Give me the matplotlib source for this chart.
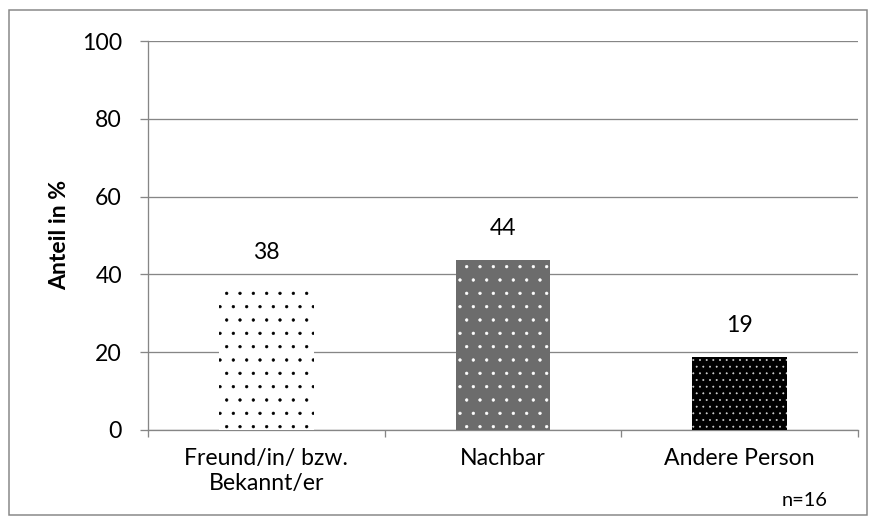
import matplotlib.pyplot as plt
from matplotlib.patches import Rectangle

# Anteil der Helfer nach Personengruppe (n=16)
categories = ['Freund/in/ bzw.\nBekannt/er', 'Nachbar', 'Andere Person']
shares = [37.5, 43.75, 18.75]
y_ticks = [0, 20, 40, 60, 80, 100]
sample_note = 'n=16'

DPI = 80
W, H = 877, 523


def px(v):
    # pixel size -> points at this dpi
    return v * 72 / DPI


plt.rcParams['font.family'] = ['Lato', 'DejaVu Sans']
plt.rcParams['hatch.linewidth'] = 0.5

grey = '#868686'
fs = px(23)

fig = plt.figure(figsize=(W / DPI, H / DPI), dpi=DPI)
ax = fig.add_axes([148 / W, 1 - 430 / H, 710 / W, 389 / H])

faces = ['white', '#6c6c6c', 'black']
dots = ['black', 'white', '#d8d8d8']
hatches = ['.', '.', '..']
x = list(range(len(shares)))
bars = ax.bar(x, shares, width=0.4, color=faces, edgecolor=dots,
              linewidth=0, zorder=3)
for b, h in zip(bars, hatches):
    b.set_hatch(h)

ax.bar_label(bars, labels=[f'{v:.0f}' for v in shares], padding=px(21),
             fontsize=fs, color='black')

ax.set_xlim(-0.5, len(shares) - 0.5)
ax.set_ylim(0, 100)
ax.set_yticks(y_ticks)
ax.tick_params(axis='y', length=px(8), width=px(1.3), color=grey,
               pad=px(18), labelsize=fs, labelcolor='black')

# category boundaries carry the tick marks, labels sit on minor ticks
ax.set_xticks([i - 0.5 for i in range(len(shares) + 1)])
ax.set_xticklabels([])
ax.tick_params(axis='x', which='major', length=px(7), width=px(1.3), color=grey)
ax.set_xticks(x, minor=True)
ax.set_xticklabels(categories, minor=True)
ax.tick_params(axis='x', which='minor', length=0, pad=px(18), labelsize=fs)
for t in ax.get_xticklabels(minor=True):
    t.set_linespacing(1.25)

ax.grid(axis='y', color=grey, linewidth=px(1.3))
ax.set_axisbelow(True)
for s in ['top', 'right']:
    ax.spines[s].set_visible(False)
for s in ['left', 'bottom']:
    ax.spines[s].set_color(grey)
    ax.spines[s].set_linewidth(px(1.3))

fig.text(60 / W, 1 - 235 / H, 'Anteil in %', rotation=90, ha='center',
         va='center', fontsize=fs, fontweight='bold')
fig.text(805 / W, 1 - 500 / H, sample_note, ha='center', va='center',
         fontsize=px(20))

fig.add_artist(Rectangle((9 / W, 8 / H), 858 / W, 505 / H,
                         transform=fig.transFigure, fill=False,
                         edgecolor=grey, linewidth=px(1.5)))

fig.savefig('out.png', dpi=DPI)
